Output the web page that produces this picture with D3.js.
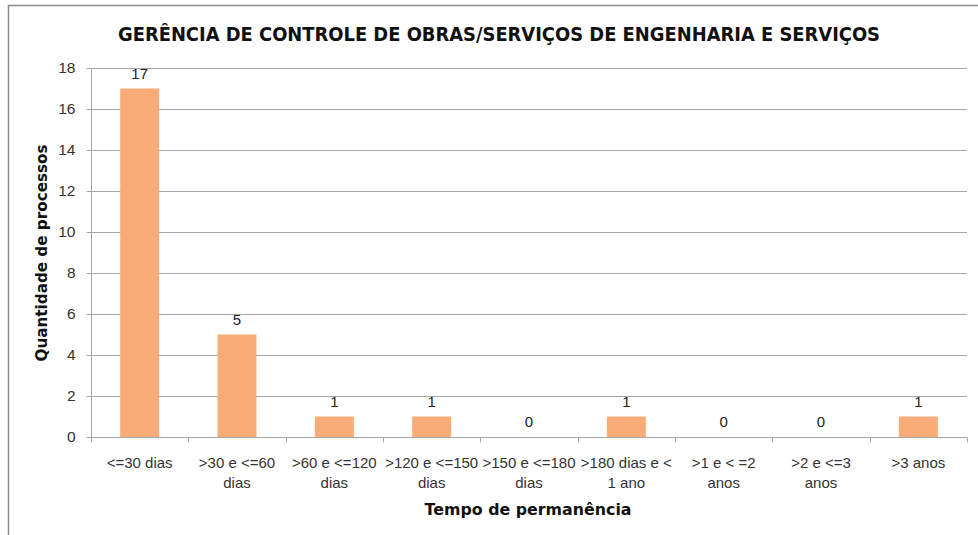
<!DOCTYPE html>
<html><head><meta charset="utf-8">
<script src="https://cdn.jsdelivr.net/npm/d3@7"></script>
<style>body{margin:0;background:#fff}svg{display:block}</style>
</head><body>
<svg id="c" width="978" height="535"></svg>
<script>
const title = "GERÊNCIA DE CONTROLE DE OBRAS/SERVIÇOS DE ENGENHARIA E SERVIÇOS";
const categories = ["<=30 dias", ">30 e <=60\ndias", ">60 e <=120\ndias", ">120 e <=150\ndias", ">150 e <=180\ndias", ">180 dias e <\n1 ano", ">1 e < =2\nanos", ">2 e <=3\nanos", ">3 anos"];
const values = [17, 5, 1, 1, 0, 1, 0, 0, 1];
const yTicks = [0, 2, 4, 6, 8, 10, 12, 14, 16, 18];
const xTitle = "Tempo de permanência";
const yTitle = "Quantidade de processos";

const svg = d3.select("#c");
const m = {l: 91, r: 967, t: 68, b: 437};
const x = d3.scaleBand().domain(categories).range([m.l, m.r]).padding(0);
const y = d3.scaleLinear().domain([0, 18]).range([m.b, m.t]);
const gridC = "#a6a6a6";
const txtFont = "Liberation Sans, Arial, sans-serif";

// frame
svg.append("path").attr("d", `M8.5,535 V5.5 H978`).attr("fill", "none").attr("stroke", "#8c8c8c").attr("stroke-width", 1.5);

// gridlines
svg.append("g").selectAll("line").data(yTicks.filter(d => d > 0)).join("line")
  .attr("x1", m.l).attr("x2", m.r).attr("y1", d => Math.round(y(d)) + 0.5).attr("y2", d => Math.round(y(d)) + 0.5)
  .attr("stroke", gridC).attr("stroke-width", 1);

// y axis
const ya = svg.append("g").attr("transform", `translate(${m.l + 0.5},0)`)
  .call(d3.axisLeft(y).tickValues(yTicks).tickSize(5).tickPadding(11).tickFormat(d3.format("d")));
ya.select(".domain").attr("stroke", gridC).attr("d", `M-0,${m.t}V${m.b}`);
ya.selectAll(".tick line").attr("stroke", gridC);
ya.selectAll(".tick text").attr("font-family", txtFont).attr("font-size", 15.5).attr("fill", "#333");

// x axis
const xa = svg.append("g").attr("transform", `translate(0,${Math.round(m.b) + 0.5})`);
xa.append("line").attr("x1", m.l).attr("x2", m.r).attr("stroke", gridC);
const bounds = categories.map(c => x(c)).concat([m.r]);
xa.selectAll("line.t").data(bounds).join("line").attr("class", "t")
  .attr("x1", d => Math.round(d) + 0.5).attr("x2", d => Math.round(d) + 0.5).attr("y1", 0).attr("y2", 5).attr("stroke", gridC);
const lbl = xa.selectAll("text.l").data(categories).join("text").attr("class", "l")
  .attr("x", d => x(d) + x.bandwidth() / 2).attr("y", 30)
  .attr("text-anchor", "middle").attr("font-family", txtFont).attr("font-size", 15).attr("fill", "#333");
lbl.each(function(d) {
  const lines = d.split("\n");
  d3.select(this).selectAll("tspan").data(lines).join("tspan")
    .attr("x", x(d) + x.bandwidth() / 2).attr("dy", (l, i) => i ? 20 : 0).text(l => l);
});

// bars
const bw = x.bandwidth() * 0.4;
svg.append("g").selectAll("rect").data(categories).join("rect")
  .attr("x", (d) => x(d) + (x.bandwidth() - bw) / 2)
  .attr("y", (d, i) => y(values[i]))
  .attr("width", bw)
  .attr("height", (d, i) => y(0) - y(values[i]))
  .attr("fill", "#f9ab78");

// value labels
svg.append("g").selectAll("text").data(categories).join("text")
  .attr("x", d => x(d) + x.bandwidth() / 2)
  .attr("y", (d, i) => y(values[i]) - 10)
  .attr("text-anchor", "middle").attr("font-family", txtFont).attr("font-size", 15).attr("fill", "#222")
  .text((d, i) => values[i]);

// title
svg.append("text").attr("x", 499).attr("y", 41).attr("text-anchor", "middle")
  .attr("font-family", "DejaVu Sans Condensed, DejaVu Sans, sans-serif").attr("font-weight", "bold").attr("font-size", 20)
  .attr("textLength", 762).attr("lengthAdjust", "spacingAndGlyphs").attr("fill", "#111").text(title);

// axis titles
svg.append("text").attr("x", 528).attr("y", 515).attr("text-anchor", "middle")
  .attr("font-family", "DejaVu Sans, sans-serif").attr("font-weight", "bold").attr("font-size", 15)
  .attr("textLength", 207).attr("lengthAdjust", "spacingAndGlyphs").attr("fill", "#111").text(xTitle);
svg.append("text").attr("transform", "translate(47,253) rotate(-90)").attr("text-anchor", "middle")
  .attr("font-family", "DejaVu Sans, sans-serif").attr("font-weight", "bold").attr("font-size", 15)
  .attr("textLength", 217).attr("lengthAdjust", "spacingAndGlyphs").attr("fill", "#111").text(yTitle);
</script>
</body></html>
